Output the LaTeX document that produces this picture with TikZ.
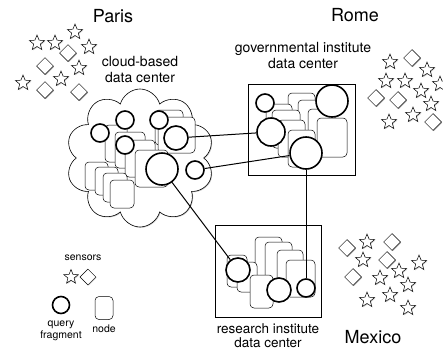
\documentclass[tikz,border=0pt]{standalone}
\usepackage{fontspec}
\setmainfont{TeX Gyre Heros}
\usetikzlibrary{shapes.geometric, shapes.symbols, shadows, positioning}

\tikzset{
    softshadow/.style={drop shadow={shadow xshift=0.8pt, shadow yshift=-0.8pt, opacity=0.35, fill=black!60}},
    fragment/.style={circle, draw, line width=1.6pt, fill=white, inner sep=0pt},
    dcnode/.style={rectangle, draw, rounded corners=4pt, fill=white, line width=0.5pt, inner sep=0pt},
    dcbox/.style={rectangle, draw, line width=0.8pt, fill=white, inner sep=0pt, softshadow},
    sstar/.style={star, star points=5, star point ratio=2.3, draw, fill=white, line width=0.5pt, minimum size=16pt, inner sep=0pt, softshadow},
    sdiam/.style={diamond, draw, fill=white, line width=0.5pt, minimum size=17pt, inner sep=0pt, softshadow},
    link/.style={line width=1pt},
    city/.style={font=\fontsize{18}{20}\selectfont},
    dclabel/.style={font=\fontsize{14}{16}\selectfont, align=center},
    legend/.style={font=\fontsize{10.5}{11.5}\selectfont, align=center},
}

\begin{document}
\begin{tikzpicture}[x=1pt, y=-1pt]
    \useasboundingbox (0,0) rectangle (443,351);

    % sensors
    \foreach \x/\y [count=\i] in {37/43, 55/43, 75/32, 89/47, 79/68, 61/79, 23/83,
            390/62, 427/70, 386/81, 405/81, 440/84, 421/91, 431/104, 413/115, 389/122,
            367/242, 363/260, 419/263, 399/271, 380/278, 408/285, 390/295, 367/300, 408/308}
        \node[sstar] (st\i) at (\x,\y) {};
    \foreach \x/\y [count=\i] in {68/53, 45/66, 45/90, 79/92,
            412/58, 376/98, 398/100, 433/122,
            347/248, 392/242, 387/260, 353/277}
        \node[sdiam] (sd\i) at (\x,\y) {};

    % data centers
    \node[cloud, cloud puffs=10, aspect=1.1, draw, fill=white, line width=0.6pt,
          minimum width=148pt, minimum height=138pt, inner sep=0pt, softshadow] (paris) at (140,158) {};
    \node[dcbox, minimum width=107pt, minimum height=91pt] (rome) at (301.5,129.5) {};
    \node[dcbox, minimum width=106pt, minimum height=92pt] (mexico) at (268,271) {};

    % nodes
    \foreach \x/\y/\w/\h [count=\i] in {169/127.5/28/35, 176.5/135/37/36, 116/143.5/22/37, 130/150/30/36,
            140/158.5/30/37, 151.5/168.5/33/37, 96.5/176/23/28, 106.5/181/23/28, 115/187.5/24/29, 122/194/24/28}
        \node[dcnode, minimum width=\w pt, minimum height=\h pt] (pn\i) at (\x,\y) {};
    \foreach \x/\y/\w/\h [count=\i] in {301.5/114/27/42, 311.5/120/27/40, 321.5/129.5/27/41, 332/137.5/30/39,
            279/122/26/36, 286/129/28/38, 291.5/138.5/27/37, 301.5/148.5/27/37}
        \node[dcnode, minimum width=\w pt, minimum height=\h pt] (rn\i) at (\x,\y) {};
    \foreach \x/\y/\w/\h [count=\i] in {268.5/257/27/40, 278.5/262/27/40, 290/270/26/40, 300.5/278.5/29/37,
            237/271/20/32, 247/277/20/30, 261.5/291.5/23/33}
        \node[dcnode, minimum width=\w pt, minimum height=\h pt] (mn\i) at (\x,\y) {};

    % query fragments
    \foreach \x/\y/\d [count=\i] in {100/133/18, 125/120/18, 159/120/18, 176/138/24, 125/145/18, 162/169/32, 195/170/18}
        \node[fragment, minimum size=\d pt] (pq\i) at (\x,\y) {};
    \foreach \x/\y/\d [count=\i] in {265/103/18, 332/101/32, 271/132/28, 306/153/32}
        \node[fragment, minimum size=\d pt] (rq\i) at (\x,\y) {};
    \foreach \x/\y/\d [count=\i] in {238/270/24, 279/290/24, 306/288/18}
        \node[fragment, minimum size=\d pt] (mq\i) at (\x,\y) {};

    % links
    \draw[link] (pq4) -- (rq3);
    \draw[link] (pq7) -- (rq4);
    \draw[link] (rq4) -- (mq3);
    \draw[link] (pq6) -- (mq1);

    % labels
    \node[city] at (113,16) {Paris};
    \node[city] at (355,15) {Rome};
    \node[city] at (373,337) {Mexico};
    \node[dclabel] at (140,69) {cloud-based\\data center};
    \node[dclabel] at (303,55) {governmental institute\\data center};
    \node[dclabel, font=\fontsize{13.5}{14}\selectfont] at (268,335.5) {research institute\\data center};

    % legend
    \node[legend] at (83,258) {sensors};
    \node[sstar, minimum size=15pt] (lstar) at (71,277) {};
    \node[sdiam, minimum size=16pt, right=4pt of lstar] (ldiam) {};
    \node[fragment, minimum size=17pt] (lfrag) at (61,305) {};
    \node[dcnode, minimum width=18pt, minimum height=23pt] (lnode) at (104,308) {};
    \node[legend, below=3pt of lfrag] {query\\fragment};
    \node[legend, below=2pt of lnode] {node};
\end{tikzpicture}
\end{document}
